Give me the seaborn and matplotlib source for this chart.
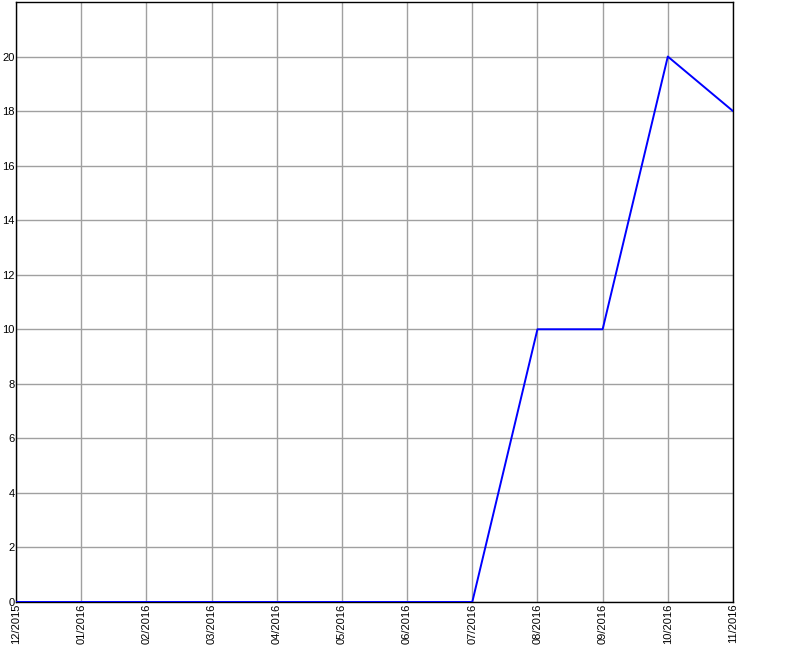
import matplotlib
matplotlib.use("Agg")
import matplotlib.pyplot as plt
import seaborn as sns
import pandas as pd

months = ["12/2015", "01/2016", "02/2016", "03/2016", "04/2016", "05/2016",
          "06/2016", "07/2016", "08/2016", "09/2016", "10/2016", "11/2016"]
values = [0, 0, 0, 0, 0, 0, 0, 0, 10, 10, 20, 18]
y_ticks = [0, 2, 4, 6, 8, 10, 12, 14, 16, 18, 20]

df = pd.DataFrame({"idx": range(len(months)), "value": values})

sns.set_style("white")
plt.rcParams['font.family'] = ['Liberation Sans', 'DejaVu Sans']

fig = plt.figure(figsize=(8, 6.5), dpi=100)
ax = fig.add_axes([16/800, 1 - 602/650, (733 - 16)/800, (602 - 2)/650])

sns.lineplot(data=df, x="idx", y="value", ax=ax, color="#0000ff", linewidth=1.4, zorder=3)

ax.set_xlim(0, len(months) - 1)
ax.set_ylim(0, 22)
ax.set_xticks(range(len(months)))
ax.set_xticklabels(months, rotation=90, fontsize=8)
ax.set_yticks(y_ticks)
ax.set_yticklabels([str(v) for v in y_ticks], fontsize=8)
ax.tick_params(axis="both", length=0, pad=1, labelcolor="black")
ax.grid(True, color="#a0a0a0", linewidth=1)
ax.set_axisbelow(True)
ax.set_xlabel("")
ax.set_ylabel("")
for s in ax.spines.values():
    s.set_color("black")
    s.set_linewidth(1)
    s.set_visible(True)

fig.savefig("out.png", dpi=100, facecolor="white")
